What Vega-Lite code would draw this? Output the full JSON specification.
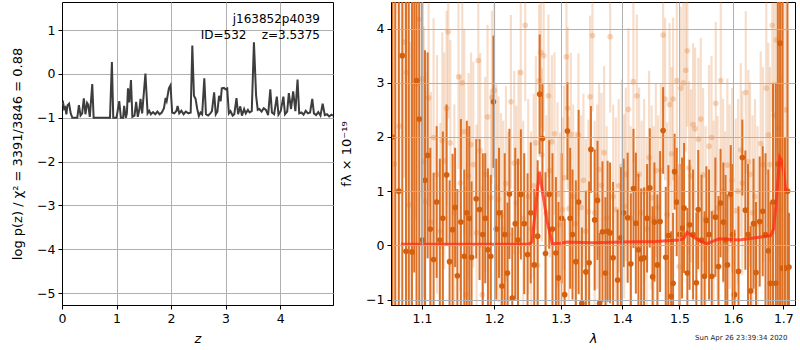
{
  "$schema": "https://vega.github.io/schema/vega-lite/v6.json",
  "padding": {"left": 11, "top": 1, "right": 2, "bottom": 0},
  "spacing": 6,
  "title": {"text": "Sun Apr 26 23:39:34 2020", "orient": "bottom", "anchor": "end", "fontSize": 7, "fontWeight": "normal", "offset": -12, "dx": -8, "color": "#222222"},
  "config": {
    "font": "DejaVu Sans",
    "view": {"stroke": "black", "strokeWidth": 1},
    "axis": {"domainColor": "black", "tickColor": "black", "tickSize": 4, "labelColor": "black", "labelFontSize": 12.5, "titleFontSize": 13, "titleFontWeight": "normal", "titleColor": "black", "gridColor": "#b0b0b0", "gridWidth": 1, "labelPadding": 3, "labelFlush": false, "labelOverlap": false}
  },
  "datasets": {
    "pz": [
      {"z":0,"v":-0.7},{"z":0.02,"v":-0.66},{"z":0.04,"v":-0.8},{"z":0.06,"v":-0.77},{"z":0.08,"v":-0.92},{"z":0.1,"v":-0.72},{"z":0.13,"v":-0.68},{"z":0.16,"v":-0.9},{"z":0.19,"v":-1},{"z":0.28,"v":-1},{"z":0.31,"v":-0.71},{"z":0.34,"v":-0.95},{"z":0.37,"v":-0.9},{"z":0.4,"v":-0.56},{"z":0.43,"v":-0.92},{"z":0.46,"v":-0.66},{"z":0.48,"v":-0.7},{"z":0.51,"v":-0.98},{"z":0.555,"v":-0.23},{"z":0.58,"v":-1},{"z":0.88,"v":-1},{"z":0.915,"v":0.27},{"z":0.94,"v":-1},{"z":1.0,"v":-1},{"z":1.05,"v":-0.62},{"z":1.08,"v":-1},{"z":1.12,"v":-1},{"z":1.14,"v":-0.73},{"z":1.17,"v":-1},{"z":1.19,"v":-0.9},{"z":1.21,"v":-0.33},{"z":1.235,"v":-0.65},{"z":1.265,"v":-0.14},{"z":1.29,"v":-0.98},{"z":1.33,"v":-0.95},{"z":1.36,"v":-0.64},{"z":1.39,"v":-0.98},{"z":1.42,"v":-0.8},{"z":1.44,"v":-0.57},{"z":1.47,"v":-0.9},{"z":1.53,"v":0.01},{"z":1.57,"v":-0.9},{"z":1.6,"v":-0.84},{"z":1.63,"v":-0.92},{"z":1.67,"v":-0.87},{"z":1.71,"v":-0.92},{"z":1.75,"v":-0.86},{"z":1.79,"v":-0.92},{"z":1.83,"v":-0.88},{"z":1.87,"v":-0.78},{"z":1.9,"v":-0.55},{"z":1.92,"v":-0.62},{"z":1.96,"v":-0.33},{"z":1.99,"v":-0.26},{"z":2.02,"v":-0.88},{"z":2.06,"v":-0.9},{"z":2.1,"v":-0.84},{"z":2.12,"v":-0.73},{"z":2.15,"v":-0.9},{"z":2.19,"v":-0.84},{"z":2.23,"v":-0.92},{"z":2.27,"v":-0.86},{"z":2.32,"v":-0.9},{"z":2.36,"v":-0.88},{"z":2.39,"v":0.65},{"z":2.42,"v":-0.5},{"z":2.45,"v":-0.57},{"z":2.48,"v":-0.8},{"z":2.51,"v":-0.96},{"z":2.54,"v":-0.88},{"z":2.57,"v":-0.92},{"z":2.61,"v":-0.1},{"z":2.64,"v":-0.92},{"z":2.68,"v":-0.95},{"z":2.72,"v":-0.9},{"z":2.75,"v":-0.85},{"z":2.79,"v":-0.42},{"z":2.82,"v":-0.92},{"z":2.85,"v":-0.86},{"z":2.88,"v":-0.5},{"z":2.91,"v":-0.62},{"z":2.93,"v":-0.33},{"z":2.97,"v":-0.32},{"z":3.0,"v":-0.35},{"z":3.03,"v":-0.33},{"z":3.06,"v":-0.9},{"z":3.09,"v":-0.85},{"z":3.13,"v":-0.95},{"z":3.16,"v":-0.92},{"z":3.2,"v":-0.55},{"z":3.23,"v":-0.92},{"z":3.27,"v":-0.74},{"z":3.3,"v":-0.95},{"z":3.34,"v":-0.8},{"z":3.37,"v":-0.9},{"z":3.41,"v":-0.82},{"z":3.44,"v":-0.88},{"z":3.48,"v":-0.85},{"z":3.52,"v":0.72},{"z":3.56,"v":-0.5},{"z":3.59,"v":-0.82},{"z":3.62,"v":-0.8},{"z":3.66,"v":-0.86},{"z":3.7,"v":-0.78},{"z":3.74,"v":-0.82},{"z":3.78,"v":-0.94},{"z":3.82,"v":-0.35},{"z":3.85,"v":-0.88},{"z":3.89,"v":-0.92},{"z":3.94,"v":-0.52},{"z":3.97,"v":-0.93},{"z":4.01,"v":-0.85},{"z":4.06,"v":-0.52},{"z":4.09,"v":-0.92},{"z":4.13,"v":-0.86},{"z":4.16,"v":-0.44},{"z":4.2,"v":-0.8},{"z":4.24,"v":-0.4},{"z":4.28,"v":-0.85},{"z":4.32,"v":-0.13},{"z":4.35,"v":-0.9},{"z":4.39,"v":-0.88},{"z":4.43,"v":-0.93},{"z":4.47,"v":-0.84},{"z":4.51,"v":-0.9},{"z":4.55,"v":-0.88},{"z":4.59,"v":-0.57},{"z":4.62,"v":-0.9},{"z":4.66,"v":-0.94},{"z":4.7,"v":-0.87},{"z":4.74,"v":-0.95},{"z":4.78,"v":-0.68},{"z":4.82,"v":-0.94},{"z":4.86,"v":-0.92},{"z":4.9,"v":-0.97},{"z":4.94,"v":-0.93},{"z":4.97,"v":-0.95}
    ],
    "model": [
      {"w":1.0725,"f":0.02},{"w":1.1,"f":0.02},{"w":1.15,"f":0.02},{"w":1.2,"f":0.02},{"w":1.25,"f":0.02},{"w":1.256,"f":0.06},{"w":1.267,"f":1.36},{"w":1.279,"f":0.45},{"w":1.287,"f":0.03},{"w":1.3,"f":0.04},{"w":1.31,"f":0.06},{"w":1.35,"f":0.05},{"w":1.4,"f":0.06},{"w":1.458,"f":0.07},{"w":1.499,"f":0.1},{"w":1.507,"f":0.12},{"w":1.514,"f":0.24},{"w":1.525,"f":0.16},{"w":1.54,"f":0.07},{"w":1.5505,"f":0.03},{"w":1.5733,"f":0.12},{"w":1.6117,"f":0.1},{"w":1.6442,"f":0.14},{"w":1.6743,"f":0.18},{"w":1.68,"f":0.3},{"w":1.6857,"f":0.81},{"w":1.6926,"f":1.62},{"w":1.697,"f":1.55},{"w":1.7014,"f":1.31},{"w":1.7048,"f":1.0}
    ],
    "spec": [
      {"s":"d","w":1.0613,"f":2.0,"e":7},{"s":"d","w":1.0652,"f":-1.5,"e":7},{"s":"d","w":1.0697,"f":1.0,"e":6},{"s":"d","w":1.0742,"f":3.5,"e":6},{"s":"d","w":1.079,"f":-0.11,"e":6},{"s":"d","w":1.0826,"f":4.8,"e":6},{"s":"d","w":1.0868,"f":-0.12,"e":6},{"s":"d","w":1.0898,"f":5.5,"e":6},{"s":"d","w":1.0928,"f":3.04,"e":4.5},{"s":"d","w":1.0964,"f":2.33,"e":4.5},{"s":"d","w":1.1004,"f":0.1,"e":5},{"s":"d","w":1.104,"f":1.2,"e":2.4},{"s":"d","w":1.1075,"f":1.66,"e":1.9},{"s":"d","w":1.1111,"f":0.3,"e":1.5},{"s":"d","w":1.1155,"f":-0.26,"e":1.6},{"s":"d","w":1.1196,"f":0.8,"e":1.4},{"s":"d","w":1.1239,"f":0.1,"e":1.5},{"s":"d","w":1.128,"f":0.5,"e":1.6},{"s":"d","w":1.1331,"f":1.3,"e":1.3},{"s":"d","w":1.1372,"f":-0.3,"e":1.5},{"s":"d","w":1.1413,"f":0.29,"e":1.4},{"s":"d","w":1.1448,"f":0.7,"e":1.1},{"s":"d","w":1.1479,"f":-0.56,"e":1.6},{"s":"d","w":1.1528,"f":0.43,"e":1.9},{"s":"d","w":1.1575,"f":-0.2,"e":1.6},{"s":"d","w":1.161,"f":0.6,"e":1.7},{"s":"d","w":1.1645,"f":0.5,"e":1.7},{"s":"d","w":1.1677,"f":-0.22,"e":1.4},{"s":"d","w":1.1743,"f":0.86,"e":1.1},{"s":"d","w":1.179,"f":0.66,"e":1.3},{"s":"d","w":1.1836,"f":0.2,"e":1.5},{"s":"d","w":1.1871,"f":0.5,"e":1.2},{"s":"d","w":1.191,"f":-0.08,"e":1.5},{"s":"d","w":1.195,"f":-0.2,"e":1.5},{"s":"d","w":1.1989,"f":2.65,"e":1.22},{"s":"d","w":1.203,"f":0.3,"e":1.3},{"s":"d","w":1.207,"f":0.6,"e":1.2},{"s":"d","w":1.2112,"f":-0.75,"e":1.4},{"s":"d","w":1.2153,"f":0.2,"e":1.5},{"s":"d","w":1.2194,"f":-0.51,"e":1.3},{"s":"d","w":1.2222,"f":0.95,"e":1.2},{"s":"d","w":1.2264,"f":-0.97,"e":1.3},{"s":"d","w":1.2308,"f":0.4,"e":1.4},{"s":"d","w":1.2349,"f":0.1,"e":1.5},{"s":"d","w":1.2392,"f":0.94,"e":1.2},{"s":"d","w":1.2442,"f":0.4,"e":1.3},{"s":"d","w":1.2492,"f":-0.17,"e":1.5},{"s":"d","w":1.254,"f":0.6,"e":1.3},{"s":"d","w":1.2593,"f":-0.36,"e":1.4},{"s":"d","w":1.2645,"f":0.17,"e":1.4},{"s":"d","w":1.2676,"f":2.79,"e":1.1},{"s":"d","w":1.2719,"f":1.97,"e":1.0},{"s":"d","w":1.2765,"f":-0.15,"e":1.5},{"s":"d","w":1.2822,"f":0.94,"e":1.0},{"s":"d","w":1.2873,"f":0.3,"e":1.4},{"s":"d","w":1.2926,"f":-0.14,"e":1.4},{"s":"d","w":1.2966,"f":-0.6,"e":1.4},{"s":"d","w":1.3016,"f":0.5,"e":1.2},{"s":"d","w":1.3063,"f":-0.91,"e":1.4},{"s":"d","w":1.3107,"f":2.11,"e":0.9},{"s":"d","w":1.315,"f":0.5,"e":1.3},{"s":"d","w":1.3187,"f":0.2,"e":1.2},{"s":"d","w":1.324,"f":-0.3,"e":1.5},{"s":"d","w":1.3285,"f":0.8,"e":1.7},{"s":"d","w":1.3337,"f":-1.07,"e":1.4},{"s":"d","w":1.3401,"f":-0.49,"e":1.5},{"s":"d","w":1.3454,"f":-0.32,"e":1.5},{"s":"d","w":1.3483,"f":1.77,"e":0.8},{"s":"d","w":1.3544,"f":0.47,"e":1.3},{"s":"d","w":1.359,"f":0.83,"e":1.1},{"s":"d","w":1.3625,"f":-1.07,"e":1.3},{"s":"d","w":1.3672,"f":0.25,"e":1.3},{"s":"d","w":1.3721,"f":-0.51,"e":1.4},{"s":"d","w":1.3757,"f":0.26,"e":1.3},{"s":"d","w":1.3798,"f":0.23,"e":1.3},{"s":"d","w":1.3848,"f":-0.23,"e":1.4},{"s":"d","w":1.3924,"f":-0.64,"e":1.3},{"s":"d","w":1.3978,"f":0.14,"e":1.3},{"s":"d","w":1.4025,"f":0.6,"e":1.0},{"s":"d","w":1.4093,"f":0.51,"e":1.2},{"s":"d","w":1.4147,"f":-0.34,"e":1.3},{"s":"d","w":1.4192,"f":1.05,"e":1.1},{"s":"d","w":1.4233,"f":0.41,"e":1.3},{"s":"d","w":1.4277,"f":-0.08,"e":1.4},{"s":"d","w":1.4324,"f":-0.25,"e":1.3},{"s":"d","w":1.4375,"f":-0.23,"e":1.3},{"s":"d","w":1.4427,"f":0.5,"e":1.0},{"s":"d","w":1.4474,"f":1.06,"e":1.1},{"s":"d","w":1.4523,"f":-0.58,"e":1.3},{"s":"d","w":1.4555,"f":0.43,"e":1.1},{"s":"d","w":1.4607,"f":-0.36,"e":1.3},{"s":"d","w":1.4655,"f":0.44,"e":1.3},{"s":"d","w":1.4708,"f":2.12,"e":0.8},{"s":"d","w":1.4755,"f":-0.22,"e":1.3},{"s":"d","w":1.4802,"f":0.18,"e":1.3},{"s":"d","w":1.485,"f":-0.94,"e":1.2},{"s":"d","w":1.4886,"f":-0.7,"e":1.3},{"s":"d","w":1.4913,"f":1.36,"e":0.7},{"s":"d","w":1.4951,"f":0.8,"e":1.0},{"s":"d","w":1.5003,"f":0.2,"e":1.3},{"s":"d","w":1.5048,"f":0.32,"e":1.3},{"s":"d","w":1.5084,"f":0.69,"e":1.2},{"s":"d","w":1.5144,"f":-0.51,"e":1.2},{"s":"d","w":1.5184,"f":0.38,"e":1.2},{"s":"d","w":1.5249,"f":0.2,"e":1.2},{"s":"d","w":1.5309,"f":-0.69,"e":1.3},{"s":"d","w":1.5344,"f":0.66,"e":1.1},{"s":"d","w":1.5405,"f":0.1,"e":1.2},{"s":"d","w":1.5461,"f":-0.57,"e":1.2},{"s":"d","w":1.5495,"f":0.46,"e":1.0},{"s":"d","w":1.5545,"f":0.2,"e":1.2},{"s":"d","w":1.5596,"f":-0.57,"e":1.2},{"s":"d","w":1.5664,"f":0.52,"e":1.1},{"s":"d","w":1.5723,"f":-0.39,"e":1.3},{"s":"d","w":1.5762,"f":0.78,"e":1.0},{"s":"d","w":1.5815,"f":0.43,"e":1.1},{"s":"d","w":1.5857,"f":0.1,"e":1.2},{"s":"d","w":1.5892,"f":-0.36,"e":1.3},{"s":"d","w":1.5957,"f":0.95,"e":0.9},{"s":"d","w":1.5992,"f":0.2,"e":1.3},{"s":"d","w":1.603,"f":-0.91,"e":1.2},{"s":"d","w":1.6107,"f":-0.48,"e":1.2},{"s":"d","w":1.6181,"f":1.62,"e":0.7},{"s":"d","w":1.624,"f":0.65,"e":1.1},{"s":"d","w":1.6292,"f":0.2,"e":1.3},{"s":"d","w":1.6345,"f":-0.84,"e":1.2},{"s":"d","w":1.6401,"f":0.4,"e":1.2},{"s":"d","w":1.645,"f":-0.5,"e":1.3},{"s":"d","w":1.6523,"f":0.44,"e":1.2},{"s":"d","w":1.6583,"f":0.63,"e":1.2},{"s":"d","w":1.6639,"f":0.2,"e":1.5},{"s":"d","w":1.6695,"f":-0.1,"e":1.5},{"s":"d","w":1.6739,"f":-0.7,"e":1.5},{"s":"d","w":1.679,"f":0.8,"e":2.2},{"s":"d","w":1.6847,"f":-0.7,"e":3.7},{"s":"d","w":1.6888,"f":1.5,"e":5},{"s":"d","w":1.6933,"f":3.73,"e":5},{"s":"d","w":1.6979,"f":-0.42,"e":5},{"s":"d","w":1.7034,"f":-0.42,"e":2.4},{"s":"d","w":1.7085,"f":1.0,"e":5},{"s":"d","w":1.7116,"f":-0.4,"e":1.0},
      {"s":"l","w":1.0639,"f":1.5,"e":3},{"s":"l","w":1.0703,"f":2.2,"e":3},{"s":"l","w":1.0768,"f":3.75,"e":2.5},{"s":"l","w":1.0798,"f":3.19,"e":2.5},{"s":"l","w":1.0842,"f":0.75,"e":3},{"s":"l","w":1.0921,"f":2.98,"e":2.5},{"s":"l","w":1.0955,"f":4.17,"e":2.2},{"s":"l","w":1.1,"f":3.07,"e":2.2},{"s":"l","w":1.1024,"f":1.54,"e":2.5},{"s":"l","w":1.1044,"f":0.81,"e":2.4},{"s":"l","w":1.1088,"f":2.72,"e":2.0},{"s":"l","w":1.112,"f":0.43,"e":2.4},{"s":"l","w":1.1155,"f":1.99,"e":2.2},{"s":"l","w":1.1201,"f":1.31,"e":2.2},{"s":"l","w":1.1246,"f":0.26,"e":2.0},{"s":"l","w":1.1273,"f":1.93,"e":2.0},{"s":"l","w":1.13,"f":1.56,"e":2.0},{"s":"l","w":1.1331,"f":2.53,"e":1.8},{"s":"l","w":1.1354,"f":3.94,"e":1.6},{"s":"l","w":1.1382,"f":1.89,"e":1.9},{"s":"l","w":1.1437,"f":0.6,"e":2.0},{"s":"l","w":1.1495,"f":3.11,"e":1.7},{"s":"l","w":1.1519,"f":1.15,"e":2.0},{"s":"l","w":1.1547,"f":3.0,"e":1.6},{"s":"l","w":1.1575,"f":2.1,"e":1.9},{"s":"l","w":1.1599,"f":-0.91,"e":2.0},{"s":"l","w":1.1635,"f":1.28,"e":1.9},{"s":"l","w":1.1669,"f":1.86,"e":1.7},{"s":"l","w":1.1701,"f":1.49,"e":1.9},{"s":"l","w":1.1748,"f":0.23,"e":2.0},{"s":"l","w":1.1772,"f":3.41,"e":1.5},{"s":"l","w":1.18,"f":1.75,"e":1.8},{"s":"l","w":1.1829,"f":-0.91,"e":2.0},{"s":"l","w":1.1871,"f":1.31,"e":1.8},{"s":"l","w":1.1904,"f":2.37,"e":1.7},{"s":"l","w":1.1953,"f":0.88,"e":2.0},{"s":"l","w":1.1967,"f":2.73,"e":1.6},{"s":"l","w":1.2,"f":2.86,"e":1.6},{"s":"l","w":1.2033,"f":1.07,"e":1.9},{"s":"l","w":1.2063,"f":0.85,"e":1.9},{"s":"l","w":1.2098,"f":0.54,"e":1.9},{"s":"l","w":1.2131,"f":0.3,"e":2.0},{"s":"l","w":1.2171,"f":1.14,"e":1.8},{"s":"l","w":1.2204,"f":0.2,"e":1.9},{"s":"l","w":1.2244,"f":2.65,"e":1.6},{"s":"l","w":1.2293,"f":1.52,"e":1.7},{"s":"l","w":1.2323,"f":0.78,"e":1.8},{"s":"l","w":1.2357,"f":1.54,"e":1.7},{"s":"l","w":1.239,"f":3.19,"e":1.5},{"s":"l","w":1.2427,"f":0.5,"e":1.8},{"s":"l","w":1.2457,"f":4.06,"e":1.4},{"s":"l","w":1.2502,"f":0.9,"e":1.8},{"s":"l","w":1.2547,"f":0.3,"e":1.8},{"s":"l","w":1.2585,"f":1.1,"e":1.7},{"s":"l","w":1.2618,"f":1.89,"e":1.6},{"s":"l","w":1.2643,"f":-0.37,"e":1.8},{"s":"l","w":1.2668,"f":3.04,"e":1.4},{"s":"l","w":1.2694,"f":3.56,"e":1.4},{"s":"l","w":1.271,"f":1.67,"e":1.6},{"s":"l","w":1.2737,"f":3.5,"e":1.4},{"s":"l","w":1.2776,"f":0.6,"e":1.8},{"s":"l","w":1.2811,"f":2.76,"e":1.5},{"s":"l","w":1.283,"f":1.38,"e":1.6},{"s":"l","w":1.2864,"f":1.91,"e":1.6},{"s":"l","w":1.2904,"f":2.06,"e":1.5},{"s":"l","w":1.2951,"f":0.94,"e":1.7},{"s":"l","w":1.2988,"f":0.38,"e":1.7},{"s":"l","w":1.3029,"f":0.66,"e":1.7},{"s":"l","w":1.3055,"f":1.25,"e":1.7},{"s":"l","w":1.3091,"f":3.48,"e":1.4},{"s":"l","w":1.311,"f":2.53,"e":1.5},{"s":"l","w":1.3129,"f":0.68,"e":1.7},{"s":"l","w":1.3161,"f":2.05,"e":1.5},{"s":"l","w":1.3198,"f":0.9,"e":1.7},{"s":"l","w":1.3237,"f":0.4,"e":1.7},{"s":"l","w":1.3282,"f":2.04,"e":1.5},{"s":"l","w":1.3325,"f":0.7,"e":1.7},{"s":"l","w":1.3362,"f":1.2,"e":1.6},{"s":"l","w":1.3401,"f":0.26,"e":1.7},{"s":"l","w":1.3443,"f":0.62,"e":1.7},{"s":"l","w":1.347,"f":2.74,"e":1.5},{"s":"l","w":1.3508,"f":3.87,"e":1.4},{"s":"l","w":1.3544,"f":0.6,"e":1.7},{"s":"l","w":1.3585,"f":0.9,"e":1.7},{"s":"l","w":1.3617,"f":1.4,"e":1.6},{"s":"l","w":1.3655,"f":1.11,"e":1.7},{"s":"l","w":1.3699,"f":1.71,"e":1.6},{"s":"l","w":1.3741,"f":0.5,"e":1.7},{"s":"l","w":1.3799,"f":3.85,"e":1.4},{"s":"l","w":1.3849,"f":0.9,"e":1.7},{"s":"l","w":1.3894,"f":0.66,"e":1.7},{"s":"l","w":1.3941,"f":1.1,"e":1.6},{"s":"l","w":1.3995,"f":1.46,"e":1.6},{"s":"l","w":1.4034,"f":0.72,"e":1.7},{"s":"l","w":1.4062,"f":1.31,"e":1.6},{"s":"l","w":1.4106,"f":2.51,"e":1.5},{"s":"l","w":1.4144,"f":0.5,"e":1.7},{"s":"l","w":1.4191,"f":3.02,"e":1.5},{"s":"l","w":1.425,"f":2.76,"e":1.5},{"s":"l","w":1.4289,"f":1.31,"e":1.6},{"s":"l","w":1.4332,"f":0.6,"e":1.7},{"s":"l","w":1.4375,"f":1.0,"e":1.7},{"s":"l","w":1.4419,"f":0.3,"e":1.7},{"s":"l","w":1.4462,"f":1.62,"e":1.6},{"s":"l","w":1.4506,"f":0.88,"e":1.7},{"s":"l","w":1.4541,"f":0.5,"e":1.7},{"s":"l","w":1.458,"f":1.38,"e":1.6},{"s":"l","w":1.462,"f":0.7,"e":1.7},{"s":"l","w":1.4667,"f":1.38,"e":1.6},{"s":"l","w":1.4708,"f":3.88,"e":1.4},{"s":"l","w":1.4743,"f":2.7,"e":1.5},{"s":"l","w":1.4779,"f":0.57,"e":1.7},{"s":"l","w":1.4823,"f":2.6,"e":1.5},{"s":"l","w":1.4859,"f":1.69,"e":1.6},{"s":"l","w":1.4886,"f":2.7,"e":1.5},{"s":"l","w":1.4953,"f":3.04,"e":1.5},{"s":"l","w":1.4994,"f":-0.39,"e":1.7},{"s":"l","w":1.5025,"f":2.9,"e":1.5},{"s":"l","w":1.5072,"f":3.0,"e":1.5},{"s":"l","w":1.5115,"f":3.23,"e":1.5},{"s":"l","w":1.5144,"f":3.59,"e":1.4},{"s":"l","w":1.5175,"f":1.43,"e":1.6},{"s":"l","w":1.5212,"f":1.28,"e":1.6},{"s":"l","w":1.5249,"f":2.23,"e":1.5},{"s":"l","w":1.5286,"f":2.15,"e":1.5},{"s":"l","w":1.5346,"f":1.96,"e":1.5},{"s":"l","w":1.5391,"f":2.33,"e":1.5},{"s":"l","w":1.5433,"f":1.3,"e":1.6},{"s":"l","w":1.548,"f":0.5,"e":1.7},{"s":"l","w":1.5545,"f":1.83,"e":1.5},{"s":"l","w":1.5592,"f":1.99,"e":1.5},{"s":"l","w":1.563,"f":0.6,"e":1.7},{"s":"l","w":1.5671,"f":2.62,"e":1.5},{"s":"l","w":1.5705,"f":0.69,"e":1.7},{"s":"l","w":1.5766,"f":3.04,"e":1.5},{"s":"l","w":1.5809,"f":1.0,"e":1.7},{"s":"l","w":1.5848,"f":0.4,"e":1.7},{"s":"l","w":1.5892,"f":1.48,"e":1.6},{"s":"l","w":1.5934,"f":0.9,"e":1.7},{"s":"l","w":1.5982,"f":1.2,"e":1.7},{"s":"l","w":1.6053,"f":0.64,"e":1.7},{"s":"l","w":1.6098,"f":1.0,"e":1.7},{"s":"l","w":1.615,"f":1.76,"e":1.6},{"s":"l","w":1.6181,"f":1.15,"e":1.7},{"s":"l","w":1.6248,"f":2.82,"e":1.5},{"s":"l","w":1.6298,"f":1.54,"e":1.7},{"s":"l","w":1.6332,"f":1.31,"e":1.7},{"s":"l","w":1.6381,"f":0.6,"e":1.8},{"s":"l","w":1.643,"f":0.9,"e":1.8},{"s":"l","w":1.648,"f":0.4,"e":1.8},{"s":"l","w":1.6543,"f":1.88,"e":1.7},{"s":"l","w":1.6589,"f":1.49,"e":1.8},{"s":"l","w":1.6655,"f":2.9,"e":1.6},{"s":"l","w":1.6695,"f":2.04,"e":1.7},{"s":"l","w":1.6729,"f":1.49,"e":1.8},{"s":"l","w":1.6776,"f":4.06,"e":1.6},{"s":"l","w":1.6817,"f":2.4,"e":2.2},{"s":"l","w":1.6858,"f":3.79,"e":2.0},{"s":"l","w":1.6898,"f":2.17,"e":2.4},{"s":"l","w":1.6947,"f":0.66,"e":2.5},{"s":"l","w":1.6994,"f":1.5,"e":3},{"s":"l","w":1.7045,"f":2.5,"e":3},{"s":"l","w":1.7096,"f":1.0,"e":3}
    ]
  },
  "hconcat": [
    {
      "width": 271,
      "height": 303,
      "title": {"text": ["j163852p4039", "ID=532\u00a0\u00a0\u00a0\u00a0z=3.5375"], "orient": "top", "anchor": "end", "frame": "group", "offset": -40, "dx": -13, "fontSize": 12, "fontWeight": "normal", "lineHeight": 16, "color": "black"},
      "data": {"name": "pz"},
      "mark": {"type": "line", "color": "#3d3d3d", "strokeWidth": 2, "clip": true},
      "encoding": {
        "x": {"field": "z", "type": "quantitative", "scale": {"domain": [0, 4.97], "nice": false, "zero": false}, "axis": {"values": [0, 1, 2, 3, 4], "format": "d", "title": "z", "titleFontStyle": "italic", "titlePadding": 8}},
        "y": {"field": "v", "type": "quantitative", "scale": {"domain": [-5.27, 1.64], "nice": false, "zero": false}, "axis": {"values": [-5, -4, -3, -2, -1, 0, 1], "format": "d", "title": "log p(z) / χ² = 3391/3846 = 0.88", "titlePadding": 12}}
      }
    },
    {
      "width": 404,
      "height": 303,
      "layer": [
        {
          "data": {"name": "spec"},
          "transform": [{"filter": "datum.s === 'l'"}],
          "mark": {"type": "errorbar", "ticks": false, "thickness": 2.2, "color": "#e07a2e", "opacity": 0.25, "clip": true},
          "encoding": {
            "x": {"field": "w", "type": "quantitative", "title": "λ", "scale": {"type": "log", "domain": [1.0597, 1.7241], "nice": false}, "axis": {"values": [1.1, 1.2, 1.3, 1.4, 1.5, 1.6, 1.7], "format": ".1f", "title": "λ", "titleFontStyle": "italic", "titlePadding": 8, "zindex": 1}},
            "y": {"field": "f", "type": "quantitative", "title": "fλ × 10⁻¹⁹", "scale": {"domain": [-1.1, 4.49], "nice": false, "zero": false}, "axis": {"values": [-1, 0, 1, 2, 3, 4], "format": "d", "title": "fλ × 10⁻¹⁹", "titlePadding": 12, "zindex": 1}},
            "yError": {"field": "e"}
          }
        },
        {
          "data": {"name": "spec"},
          "transform": [{"filter": "datum.s === 'l'"}],
          "mark": {"type": "circle", "size": 32, "color": "#e07a2e", "opacity": 0.3, "clip": true},
          "encoding": {
            "x": {"field": "w", "type": "quantitative", "title": "λ"},
            "y": {"field": "f", "type": "quantitative", "title": "fλ × 10⁻¹⁹"}
          }
        },
        {
          "data": {"name": "spec"},
          "transform": [{"filter": "datum.s === 'd'"}],
          "mark": {"type": "errorbar", "ticks": false, "thickness": 2, "color": "#da6a1c", "opacity": 0.95, "clip": true},
          "encoding": {
            "x": {"field": "w", "type": "quantitative", "title": "λ"},
            "y": {"field": "f", "type": "quantitative", "title": "fλ × 10⁻¹⁹"},
            "yError": {"field": "e"}
          }
        },
        {
          "data": {"name": "spec"},
          "transform": [{"filter": "datum.s === 'd'"}],
          "mark": {"type": "circle", "size": 32, "color": "#d45f0c", "opacity": 1, "clip": true},
          "encoding": {
            "x": {"field": "w", "type": "quantitative", "title": "λ"},
            "y": {"field": "f", "type": "quantitative", "title": "fλ × 10⁻¹⁹"}
          }
        },
        {
          "data": {"name": "model"},
          "mark": {"type": "line", "color": "#ff2a10", "opacity": 0.75, "strokeWidth": 3, "clip": true},
          "encoding": {
            "x": {"field": "w", "type": "quantitative", "title": "λ"},
            "y": {"field": "f", "type": "quantitative", "title": "fλ × 10⁻¹⁹"}
          }
        },
        {
          "mark": {"type": "rule", "color": "black", "strokeDash": [2, 3], "strokeWidth": 1.6},
          "encoding": {"y": {"datum": 0, "title": "fλ × 10⁻¹⁹"}}
        }
      ]
    }
  ]
}
